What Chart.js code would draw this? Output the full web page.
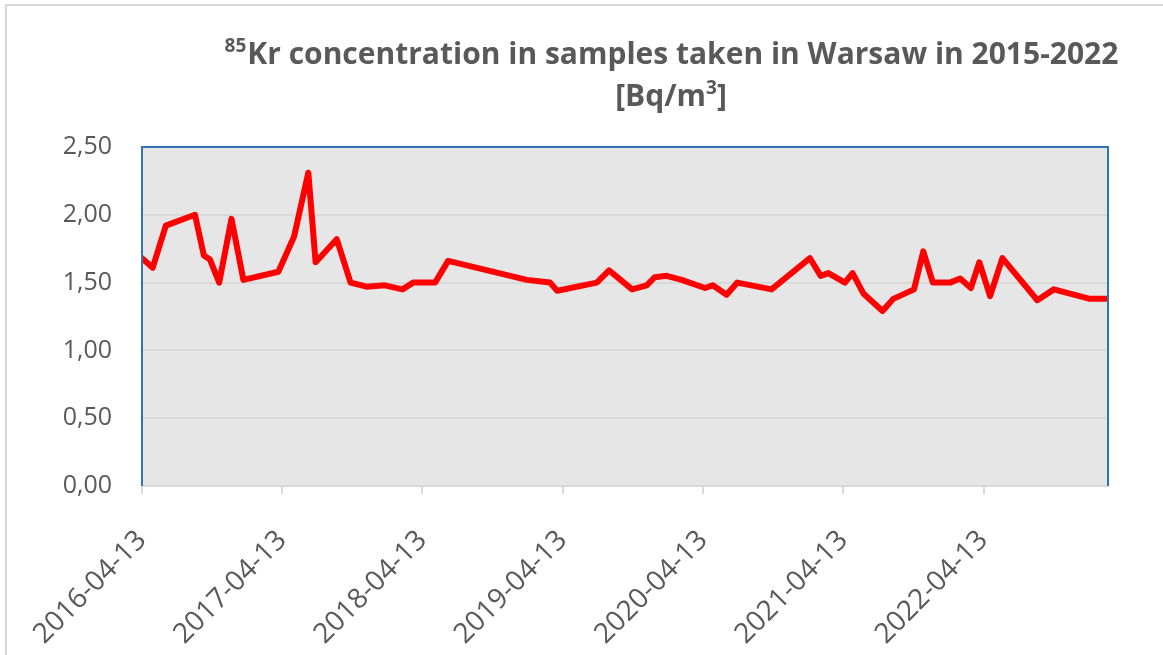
<!DOCTYPE html>
<html>
<head>
<meta charset="utf-8">
<title>85Kr concentration Warsaw 2015-2022</title>
<script src="https://cdn.jsdelivr.net/npm/chart.js@4.4.0/dist/chart.umd.min.js"></script>
<style>
  html, body { margin: 0; padding: 0; background: #fff; overflow: hidden; }
  #wrap { position: relative; width: 1163px; height: 655px; }
  #frame { position: absolute; left: 5px; top: 4px; right: -10px; bottom: -10px;
           border-top: 2px solid #d9d9d9; border-left: 2px solid #d9d9d9; }
  canvas { position: absolute; left: 0; top: 0; }
</style>
</head>
<body>
<div id="wrap">
  <div id="frame"></div>
  <canvas id="krChart" width="1163" height="655"></canvas>
</div>
<script>
// sampling dates
const sampleDates = [
  "2016-04-13", "2016-05-11", "2016-06-14", "2016-08-29", "2016-09-21", "2016-10-07",
  "2016-10-31", "2016-12-02", "2017-01-02", "2017-04-03", "2017-05-14", "2017-06-20",
  "2017-07-09", "2017-09-02", "2017-10-08", "2017-11-19", "2018-01-05", "2018-02-20",
  "2018-03-20", "2018-05-16", "2018-06-19", "2019-01-10", "2019-03-11", "2019-03-30",
  "2019-07-11", "2019-08-12", "2019-10-11", "2019-11-18", "2019-12-09", "2020-01-09",
  "2020-02-17", "2020-04-18", "2020-05-08", "2020-06-13", "2020-07-11", "2020-10-08",
  "2021-01-16", "2021-02-13", "2021-03-05", "2021-04-17", "2021-05-07", "2021-06-04",
  "2021-07-24", "2021-08-21", "2021-10-14", "2021-11-07", "2021-12-02", "2022-01-16",
  "2022-02-11", "2022-03-11", "2022-04-02", "2022-04-30", "2022-06-01", "2022-08-31",
  "2022-10-13", "2023-01-15", "2023-03-03"
];

// 85Kr concentration [Bq/m3]
const krValues = [
  1.68, 1.61, 1.92, 2.00, 1.70, 1.67,
  1.50, 1.97, 1.52, 1.58, 1.84, 2.31,
  1.65, 1.82, 1.50, 1.47, 1.48, 1.45,
  1.50, 1.50, 1.66, 1.52, 1.50, 1.44,
  1.50, 1.59, 1.45, 1.48, 1.54, 1.55,
  1.52, 1.46, 1.48, 1.41, 1.50, 1.45,
  1.68, 1.55, 1.57, 1.50, 1.57, 1.42,
  1.29, 1.38, 1.45, 1.73, 1.50, 1.50,
  1.53, 1.46, 1.65, 1.40, 1.68, 1.37,
  1.45, 1.38, 1.38
];

// axis labels
const xTickDates = ["2016-04-13", "2017-04-13", "2018-04-13", "2019-04-13", "2020-04-13", "2021-04-13", "2022-04-13"];
const yMin = 0;
const yMax = 2.5;
const yStep = 0.5;

const titleLine1 = "Kr concentration in samples taken in Warsaw in 2015-2022";
const titleSup1 = "85";

const textColor = "#595959";
const fontFamily = '"Open Sans", "Noto Sans", sans-serif';

function toTime(d) {
  const p = d.split("-");
  return Date.UTC(+p[0], +p[1] - 1, +p[2]);
}

function formatDate(v) {
  return new Date(v).toISOString().slice(0, 10);
}

const points = sampleDates.map((d, i) => ({ x: toTime(d), y: krValues[i] }));

// plot area background + blue frame
const plotAreaPlugin = {
  id: "plotArea",
  beforeDraw(chart) {
    const { ctx, chartArea: a } = chart;
    ctx.save();
    ctx.fillStyle = "#e7e6e6";
    ctx.fillRect(a.left, a.top, a.right - a.left, a.bottom - a.top);
    ctx.restore();
  },
  afterDatasetsDraw(chart) {
    const { ctx, chartArea: a } = chart;
    ctx.save();
    ctx.strokeStyle = "#2f75b5";
    ctx.lineWidth = 2;
    ctx.beginPath();
    ctx.moveTo(a.left, a.bottom);
    ctx.lineTo(a.left, a.top);
    ctx.lineTo(a.right, a.top);
    ctx.lineTo(a.right, a.bottom);
    ctx.stroke();
    ctx.restore();
  }
};

// title with superscripts
const titlePlugin = {
  id: "krTitle",
  afterDraw(chart) {
    const ctx = chart.ctx;
    const cx = 671;
    ctx.save();
    ctx.fillStyle = textColor;
    ctx.textBaseline = "alphabetic";
    ctx.textAlign = "left";

    const mainFont = "bold 30px " + fontFamily;
    const supFont = "bold 19px " + fontFamily;

    ctx.font = supFont;
    const w1s = ctx.measureText(titleSup1).width;
    ctx.font = mainFont;
    const w1m = ctx.measureText(titleLine1).width;
    let x = cx - (w1s + w1m) / 2;
    ctx.font = supFont;
    ctx.fillText(titleSup1, x, 52);
    ctx.font = mainFont;
    ctx.fillText(titleLine1, x + w1s + 1, 64);

    const a = "[Bq/m", s = "3", b = "]";
    ctx.font = mainFont;
    const wa = ctx.measureText(a).width, wb = ctx.measureText(b).width;
    ctx.font = supFont;
    const ws = ctx.measureText(s).width;
    x = cx - (wa + ws + wb) / 2;
    ctx.font = mainFont;
    ctx.fillText(a, x, 106);
    ctx.font = supFont;
    ctx.fillText(s, x + wa, 94);
    ctx.font = mainFont;
    ctx.fillText(b, x + wa + ws, 106);
    ctx.restore();
  }
};

new Chart(document.getElementById("krChart").getContext("2d"), {
  type: "line",
  data: {
    datasets: [
      {
        label: "85Kr",
        data: points,
        borderColor: "#ff0000",
        backgroundColor: "#ff0000",
        borderWidth: 6,
        pointRadius: 0,
        tension: 0,
        borderJoinStyle: "round",
        borderCapStyle: "round"
      }
    ]
  },
  options: {
    responsive: false,
    animation: false,
    layout: { padding: { top: 147, right: 55, left: 0, bottom: 0 } },
    plugins: {
      legend: { display: false },
      title: { display: false },
      tooltip: { enabled: false }
    },
    scales: {
      x: {
        type: "linear",
        min: toTime(sampleDates[0]),
        max: toTime(sampleDates[sampleDates.length - 1]),
        afterBuildTicks(scale) {
          scale.ticks = xTickDates.map((d) => ({ value: toTime(d) }));
        },
        afterFit(scale) {
          scale.height = 169;
        },
        grid: {
          drawOnChartArea: false,
          drawTicks: true,
          tickLength: 8,
          color: "#d9d9d9",
          lineWidth: 2
        },
        border: { display: true, color: "#d9d9d9", width: 2 },
        ticks: {
          autoSkip: false,
          minRotation: 45,
          maxRotation: 45,
          padding: 30,
          color: textColor,
          font: { family: fontFamily, size: 28 },
          callback: (v) => formatDate(v)
        }
      },
      y: {
        min: yMin,
        max: yMax,
        afterFit(scale) {
          scale.width = 142;
        },
        grid: { color: "#d9d9d9", lineWidth: 2, drawTicks: false },
        border: { display: false },
        ticks: {
          stepSize: yStep,
          padding: 30,
          color: textColor,
          font: { family: fontFamily, size: 25 },
          callback: (v) => v.toFixed(2).replace(".", ",")
        }
      }
    }
  },
  plugins: [plotAreaPlugin, titlePlugin]
});
</script>
</body>
</html>
